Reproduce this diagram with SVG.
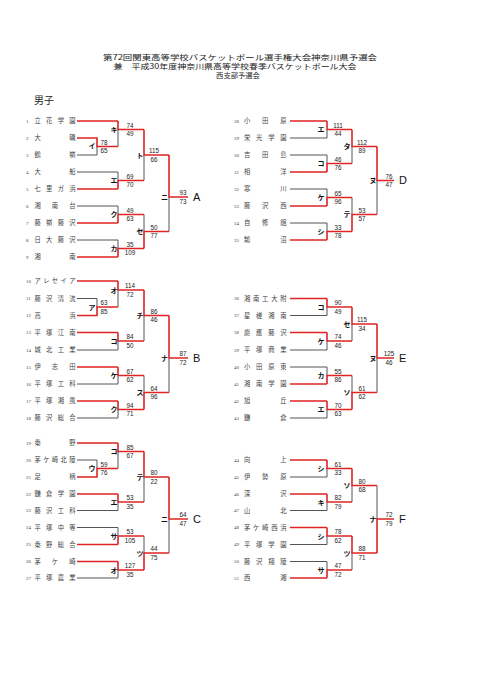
<svg xmlns="http://www.w3.org/2000/svg" width="481" height="680" viewBox="0 0 481 680">
<style>
.r{stroke:#e02424;stroke-width:1.6;fill:none}
.g{stroke:#555;stroke-width:1;fill:none}
.nm{font-family:"Noto Sans CJK JP","Noto Sans",sans-serif;font-size:6.3px;fill:#444}
.no{font-family:"Liberation Serif",serif;font-size:5px;fill:#444}
.sc{font-family:"Liberation Sans",Arial,sans-serif;font-size:6.3px;fill:#222;text-anchor:middle}
.lb{font-family:"Noto Sans CJK JP",sans-serif;font-size:7px;fill:#111;font-weight:bold;text-anchor:middle}
.bl{font-family:"Liberation Sans",Arial,sans-serif;font-size:11px;fill:#111}
.hd{font-family:"Noto Sans CJK JP",sans-serif;font-size:7.3px;fill:#222;text-anchor:middle}
</style>
<rect width="481" height="680" fill="#fff"/>
<g id="header">
<text class="hd" x="240" y="59.5" textLength="274" lengthAdjust="spacingAndGlyphs">第72回関東高等学校バスケットボール選手権大会神奈川県予選会</text>
<text class="hd" x="235" y="68.5" textLength="243" lengthAdjust="spacingAndGlyphs">兼　平成30年度神奈川県高等学校春季バスケットボール大会</text>
<text class="hd" x="238" y="77.5">西支部予選会</text>
<text x="34" y="104" style="font-family:'Noto Sans CJK JP',sans-serif;font-size:10px;fill:#222">男子</text>
</g>
<g id="connectors">
<path class="g" d="M77 155H97V146.5M77 172H118V180.5M118 129.5V146.5M77 206H118V214.5M77 240H118V248.5M144 155V180.5M144 214.5V231.5M169 197V231.5"/>
<path class="r" d="M77 121H118M77 138H97V146.5H118M77 189H118M77 223H118M77 257H118M118 121V129.5H144M118 189V180.5H144M118 223V214.5H144M118 257V248.5H144M144 129.5V155H169M144 248.5V231.5H169M169 155V197H188"/>
<path class="g" d="M77 298.5H97V307M118 290V307M77 350H118V341M77 384H118V375.5M77 418H118V409.5M144 315.5V341M144 375.5V392.5M169 358V392.5"/>
<path class="r" d="M77 281H118M77 315.5H97V307H118M77 332.5H118M77 367H118M77 401H118M118 281V290H144M118 332.5V341H144M118 367V375.5H144M118 401V409.5H144M144 290V315.5H169M144 409.5V392.5H169M169 315.5V358H188"/>
<path class="g" d="M77 460H97V468.5M118 451.5V468.5M77 510.5H118V502M77 527.5H118V536M77 578H118V570M144 477V502M144 536V553M169 519V553"/>
<path class="r" d="M77 443H118M77 477H97V468.5H118M77 494H118M77 544.5H118M77 561.5H118M118 443V451.5H144M118 494V502H144M118 544.5V536H144M118 561.5V570H144M144 451.5V477H169M144 570V553H169M169 477V519H188"/>
<path class="g" d="M290 138H327V129.5M290 155H327V163.5M290 189H327V197.5M290 223H327V231.5M352 146.5V163.5M352 197.5V214.5M377 180.5V214.5"/>
<path class="r" d="M290 121H327M290 172H327M290 206H327M290 240H327M327 121V129.5H352M327 172V163.5H352M327 206V197.5H352M327 240V231.5H352M352 129.5V146.5H377M352 231.5V214.5H377M377 146.5V180.5H394"/>
<path class="g" d="M290 315.5H327V307M290 350H327V341M290 367H327V375.5M290 418H327V409.5M352 324V341M352 375.5V392.5M377 358V392.5"/>
<path class="r" d="M290 298.5H327M290 332.5H327M290 384H327M290 401H327M327 298.5V307H352M327 332.5V341H352M327 384V375.5H352M327 401V409.5H352M352 307V324H377M352 409.5V392.5H377M377 324V358H394"/>
<path class="g" d="M290 477H327V468.5M290 510.5H327V502M290 544.5H327V536M290 561.5H327V570M352 485.5V502M352 553V570M377 485.5V519"/>
<path class="r" d="M290 460H327M290 494H327M290 527.5H327M290 578H327M327 460V468.5H352M327 494V502H352M327 527.5V536H352M327 578V570H352M352 468.5V485.5H377M352 536V553H377M377 553V519H394"/>
</g>
<!-- Teams -->
<g id="t1"><text class="no" x="26" y="122.8">1</text><text class="nm" x="34.5" y="123.3" textLength="41">立花学園</text></g>
<g id="t2"><text class="no" x="26" y="139.8">2</text><text class="nm" x="34.5" y="140.3" textLength="41">大磯</text></g>
<g id="t3"><text class="no" x="26" y="156.8">3</text><text class="nm" x="34.5" y="157.3" textLength="41">鶴嶺</text></g>
<g id="t4"><text class="no" x="26" y="173.8">4</text><text class="nm" x="34.5" y="174.3" textLength="41">大船</text></g>
<g id="t5"><text class="no" x="26" y="190.8">5</text><text class="nm" x="34.5" y="191.3" textLength="41">七里ガ浜</text></g>
<g id="t6"><text class="no" x="26" y="207.8">6</text><text class="nm" x="34.5" y="208.3" textLength="41">湘南台</text></g>
<g id="t7"><text class="no" x="26" y="224.8">7</text><text class="nm" x="34.5" y="225.3" textLength="41">藤嶺藤沢</text></g>
<g id="t8"><text class="no" x="26" y="241.8">8</text><text class="nm" x="34.5" y="242.3" textLength="41">日大藤沢</text></g>
<g id="t9"><text class="no" x="26" y="258.8">9</text><text class="nm" x="34.5" y="259.3" textLength="41">湘南</text></g>
<g id="t10"><text class="no" x="26" y="282.8">10</text><text class="nm" x="34.5" y="283.3" textLength="41">アレセイア</text></g>
<g id="t11"><text class="no" x="26" y="300.3">11</text><text class="nm" x="34.5" y="300.8" textLength="41">藤沢清流</text></g>
<g id="t12"><text class="no" x="26" y="317.3">12</text><text class="nm" x="34.5" y="317.8" textLength="41">高浜</text></g>
<g id="t13"><text class="no" x="26" y="334.3">13</text><text class="nm" x="34.5" y="334.8" textLength="41">平塚江南</text></g>
<g id="t14"><text class="no" x="26" y="351.8">14</text><text class="nm" x="34.5" y="352.3" textLength="41">城北工業</text></g>
<g id="t15"><text class="no" x="26" y="368.8">15</text><text class="nm" x="34.5" y="369.3" textLength="41">伊志田</text></g>
<g id="t16"><text class="no" x="26" y="385.8">16</text><text class="nm" x="34.5" y="386.3" textLength="41">平塚工科</text></g>
<g id="t17"><text class="no" x="26" y="402.8">17</text><text class="nm" x="34.5" y="403.3" textLength="41">平塚湘風</text></g>
<g id="t18"><text class="no" x="26" y="419.8">18</text><text class="nm" x="34.5" y="420.3" textLength="41">藤沢総合</text></g>
<g id="t19"><text class="no" x="26" y="444.8">19</text><text class="nm" x="34.5" y="445.3" textLength="41">秦野</text></g>
<g id="t20"><text class="no" x="26" y="461.8">20</text><text class="nm" x="34.5" y="462.3" textLength="41">茅ケ崎北陵</text></g>
<g id="t21"><text class="no" x="26" y="478.8">21</text><text class="nm" x="34.5" y="479.3" textLength="41">足柄</text></g>
<g id="t22"><text class="no" x="26" y="495.8">22</text><text class="nm" x="34.5" y="496.3" textLength="41">鎌倉学園</text></g>
<g id="t23"><text class="no" x="26" y="512.3">23</text><text class="nm" x="34.5" y="512.8" textLength="41">藤沢工科</text></g>
<g id="t24"><text class="no" x="26" y="529.3">24</text><text class="nm" x="34.5" y="529.8" textLength="41">平塚中等</text></g>
<g id="t25"><text class="no" x="26" y="546.3">25</text><text class="nm" x="34.5" y="546.8" textLength="41">秦野総合</text></g>
<g id="t26"><text class="no" x="26" y="563.3">26</text><text class="nm" x="34.5" y="563.8" textLength="41">茅ケ崎</text></g>
<g id="t27"><text class="no" x="26" y="579.8">27</text><text class="nm" x="34.5" y="580.3" textLength="41">平塚農業</text></g>
<g id="t28"><text class="no" x="234" y="122.8">28</text><text class="nm" x="244" y="123.3" textLength="42.5">小田原</text></g>
<g id="t29"><text class="no" x="234" y="139.8">29</text><text class="nm" x="244" y="140.3" textLength="42.5">栄光学園</text></g>
<g id="t30"><text class="no" x="234" y="156.8">30</text><text class="nm" x="244" y="157.3" textLength="42.5">吉田島</text></g>
<g id="t31"><text class="no" x="234" y="173.8">31</text><text class="nm" x="244" y="174.3" textLength="42.5">相洋</text></g>
<g id="t32"><text class="no" x="234" y="190.8">32</text><text class="nm" x="244" y="191.3" textLength="42.5">寒川</text></g>
<g id="t33"><text class="no" x="234" y="207.8">33</text><text class="nm" x="244" y="208.3" textLength="42.5">藤沢西</text></g>
<g id="t34"><text class="no" x="234" y="224.8">34</text><text class="nm" x="244" y="225.3" textLength="42.5">自修館</text></g>
<g id="t35"><text class="no" x="234" y="241.8">35</text><text class="nm" x="244" y="242.3" textLength="42.5">鵠沼</text></g>
<g id="t36"><text class="no" x="234" y="300.3">36</text><text class="nm" x="244" y="300.8" textLength="42.5">湘南工大附</text></g>
<g id="t37"><text class="no" x="234" y="317.3">37</text><text class="nm" x="244" y="317.8" textLength="42.5">星槎湘南</text></g>
<g id="t38"><text class="no" x="234" y="334.3">38</text><text class="nm" x="244" y="334.8" textLength="42.5">慶應藤沢</text></g>
<g id="t39"><text class="no" x="234" y="351.8">39</text><text class="nm" x="244" y="352.3" textLength="42.5">平塚商業</text></g>
<g id="t40"><text class="no" x="234" y="368.8">40</text><text class="nm" x="244" y="369.3" textLength="42.5">小田原東</text></g>
<g id="t41"><text class="no" x="234" y="385.8">41</text><text class="nm" x="244" y="386.3" textLength="42.5">湘南学園</text></g>
<g id="t42"><text class="no" x="234" y="402.8">42</text><text class="nm" x="244" y="403.3" textLength="42.5">旭丘</text></g>
<g id="t43"><text class="no" x="234" y="419.8">43</text><text class="nm" x="244" y="420.3" textLength="42.5">鎌倉</text></g>
<g id="t44"><text class="no" x="234" y="461.8">44</text><text class="nm" x="244" y="462.3" textLength="42.5">向上</text></g>
<g id="t45"><text class="no" x="234" y="478.8">45</text><text class="nm" x="244" y="479.3" textLength="42.5">伊勢原</text></g>
<g id="t46"><text class="no" x="234" y="495.8">46</text><text class="nm" x="244" y="496.3" textLength="42.5">深沢</text></g>
<g id="t47"><text class="no" x="234" y="512.3">47</text><text class="nm" x="244" y="512.8" textLength="42.5">山北</text></g>
<g id="t48"><text class="no" x="234" y="529.3">48</text><text class="nm" x="244" y="529.8" textLength="42.5">茅ケ崎西浜</text></g>
<g id="t49"><text class="no" x="234" y="546.3">49</text><text class="nm" x="244" y="546.8" textLength="42.5">平塚学園</text></g>
<g id="t50"><text class="no" x="234" y="563.3">50</text><text class="nm" x="244" y="563.8" textLength="42.5">藤沢翔陵</text></g>
<g id="t51"><text class="no" x="234" y="579.8">51</text><text class="nm" x="244" y="580.3" textLength="42.5">西湘</text></g>
<!-- Matches block A -->
<g id="mA-i"><text class="lb" x="92" y="149">イ</text><text class="sc" x="104" y="144.7">78</text><text class="sc" x="104" y="153.3">65</text></g>
<g id="mA-ki"><text class="lb" x="114" y="132">キ</text><text class="sc" x="130" y="127.7">74</text><text class="sc" x="130" y="136.3">49</text></g>
<g id="mA-e"><text class="lb" x="114" y="183">エ</text><text class="sc" x="130" y="178.7">69</text><text class="sc" x="130" y="187.3">70</text></g>
<g id="mA-ku"><text class="lb" x="114" y="217">ク</text><text class="sc" x="130" y="212.7">49</text><text class="sc" x="130" y="221.3">63</text></g>
<g id="mA-ka"><text class="lb" x="114" y="251">カ</text><text class="sc" x="130" y="246.7">35</text><text class="sc" x="130" y="255.3">109</text></g>
<g id="mA-to"><text class="lb" x="140" y="157.5">ト</text><text class="sc" x="154" y="153.2">115</text><text class="sc" x="154" y="161.8">66</text></g>
<g id="mA-se"><text class="lb" x="140" y="234">セ</text><text class="sc" x="154" y="229.7">50</text><text class="sc" x="154" y="238.3">77</text></g>
<g id="mA-ni"><text class="lb" x="164.5" y="199.5">ニ</text><text class="sc" x="183" y="195.2">93</text><text class="sc" x="183" y="203.8">73</text><text class="bl" x="193" y="201">A</text></g>
<!-- Block B -->
<g id="mB-a"><text class="lb" x="92" y="309.5">ア</text><text class="sc" x="104" y="305.2">63</text><text class="sc" x="104" y="313.8">85</text></g>
<g id="mB-o"><text class="lb" x="114" y="292.5">オ</text><text class="sc" x="130" y="288.2">114</text><text class="sc" x="130" y="296.8">72</text></g>
<g id="mB-ko"><text class="lb" x="114" y="343.5">コ</text><text class="sc" x="130" y="339.2">84</text><text class="sc" x="130" y="347.8">50</text></g>
<g id="mB-ke"><text class="lb" x="114" y="378">ケ</text><text class="sc" x="130" y="373.7">67</text><text class="sc" x="130" y="382.3">62</text></g>
<g id="mB-ku"><text class="lb" x="114" y="412">ク</text><text class="sc" x="130" y="407.7">94</text><text class="sc" x="130" y="416.3">71</text></g>
<g id="mB-chi"><text class="lb" x="140" y="318">チ</text><text class="sc" x="154" y="313.7">86</text><text class="sc" x="154" y="322.3">46</text></g>
<g id="mB-su"><text class="lb" x="140" y="395">ス</text><text class="sc" x="154" y="390.7">64</text><text class="sc" x="154" y="399.3">96</text></g>
<g id="mB-na"><text class="lb" x="164.5" y="360.5">ナ</text><text class="sc" x="183" y="356.2">87</text><text class="sc" x="183" y="364.8">72</text><text class="bl" x="193" y="362">B</text></g>
<!-- Block C -->
<g id="mC-u"><text class="lb" x="92" y="471">ウ</text><text class="sc" x="104" y="466.7">59</text><text class="sc" x="104" y="475.3">76</text></g>
<g id="mC-ko"><text class="lb" x="114" y="454">コ</text><text class="sc" x="130" y="449.7">85</text><text class="sc" x="130" y="458.3">67</text></g>
<g id="mC-e"><text class="lb" x="114" y="504.5">エ</text><text class="sc" x="130" y="500.2">53</text><text class="sc" x="130" y="508.8">35</text></g>
<g id="mC-sa"><text class="lb" x="114" y="538.5">サ</text><text class="sc" x="130" y="534.2">53</text><text class="sc" x="130" y="542.8">105</text></g>
<g id="mC-o"><text class="lb" x="114" y="572.5">オ</text><text class="sc" x="130" y="568.2">127</text><text class="sc" x="130" y="576.8">35</text></g>
<g id="mC-te"><text class="lb" x="140" y="479.5">テ</text><text class="sc" x="154" y="475.2">80</text><text class="sc" x="154" y="483.8">22</text></g>
<g id="mC-tsu"><text class="lb" x="140" y="555.5">ツ</text><text class="sc" x="154" y="551.2">44</text><text class="sc" x="154" y="559.8">75</text></g>
<g id="mC-ni"><text class="lb" x="164.5" y="521.5">ニ</text><text class="sc" x="183" y="517.2">64</text><text class="sc" x="183" y="525.8">47</text><text class="bl" x="193" y="523">C</text></g>
<!-- Block D -->
<g id="mD-e"><text class="lb" x="321" y="132">エ</text><text class="sc" x="338" y="127.7">111</text><text class="sc" x="338" y="136.3">44</text></g>
<g id="mD-ko"><text class="lb" x="321" y="166">コ</text><text class="sc" x="338" y="161.7">46</text><text class="sc" x="338" y="170.3">76</text></g>
<g id="mD-ke"><text class="lb" x="321" y="200">ケ</text><text class="sc" x="338" y="195.7">65</text><text class="sc" x="338" y="204.3">96</text></g>
<g id="mD-shi"><text class="lb" x="321" y="234">シ</text><text class="sc" x="338" y="229.7">33</text><text class="sc" x="338" y="238.3">78</text></g>
<g id="mD-ta"><text class="lb" x="347" y="149">タ</text><text class="sc" x="362" y="144.7">112</text><text class="sc" x="362" y="153.3">89</text></g>
<g id="mD-te"><text class="lb" x="347" y="217">テ</text><text class="sc" x="362" y="212.7">53</text><text class="sc" x="362" y="221.3">57</text></g>
<g id="mD-nu"><text class="lb" x="373" y="183">ヌ</text><text class="sc" x="389" y="178.7">76</text><text class="sc" x="389" y="187.3">47</text><text class="bl" x="399" y="184">D</text></g>
<!-- Block E -->
<g id="mE-ko"><text class="lb" x="321" y="309.5">コ</text><text class="sc" x="338" y="305.2">90</text><text class="sc" x="338" y="313.8">49</text></g>
<g id="mE-ke"><text class="lb" x="321" y="343.5">ケ</text><text class="sc" x="338" y="339.2">74</text><text class="sc" x="338" y="347.8">46</text></g>
<g id="mE-ka"><text class="lb" x="321" y="378">カ</text><text class="sc" x="338" y="373.7">55</text><text class="sc" x="338" y="382.3">86</text></g>
<g id="mE-e"><text class="lb" x="321" y="412">エ</text><text class="sc" x="338" y="407.7">70</text><text class="sc" x="338" y="416.3">63</text></g>
<g id="mE-se"><text class="lb" x="347" y="326.5">セ</text><text class="sc" x="362" y="322.2">115</text><text class="sc" x="362" y="330.8">34</text></g>
<g id="mE-so"><text class="lb" x="347" y="395">ソ</text><text class="sc" x="362" y="390.7">61</text><text class="sc" x="362" y="399.3">62</text></g>
<g id="mE-nu"><text class="lb" x="373" y="360.5">ヌ</text><text class="sc" x="389" y="356.2">125</text><text class="sc" x="389" y="364.8">46</text><text class="bl" x="399" y="362">E</text></g>
<!-- Block F -->
<g id="mF-shi1"><text class="lb" x="321" y="471">シ</text><text class="sc" x="338" y="466.7">61</text><text class="sc" x="338" y="475.3">33</text></g>
<g id="mF-ki"><text class="lb" x="321" y="504.5">キ</text><text class="sc" x="338" y="500.2">82</text><text class="sc" x="338" y="508.8">79</text></g>
<g id="mF-shi2"><text class="lb" x="321" y="538.5">シ</text><text class="sc" x="338" y="534.2">78</text><text class="sc" x="338" y="542.8">62</text></g>
<g id="mF-sa"><text class="lb" x="321" y="572.5">サ</text><text class="sc" x="338" y="568.2">47</text><text class="sc" x="338" y="576.8">72</text></g>
<g id="mF-so"><text class="lb" x="347" y="488">ソ</text><text class="sc" x="362" y="483.7">80</text><text class="sc" x="362" y="492.3">68</text></g>
<g id="mF-tsu"><text class="lb" x="347" y="555.5">ツ</text><text class="sc" x="362" y="551.2">88</text><text class="sc" x="362" y="559.8">71</text></g>
<g id="mF-na"><text class="lb" x="373" y="521.5">ナ</text><text class="sc" x="389" y="517.2">72</text><text class="sc" x="389" y="525.8">79</text><text class="bl" x="399" y="523">F</text></g>
</svg>
